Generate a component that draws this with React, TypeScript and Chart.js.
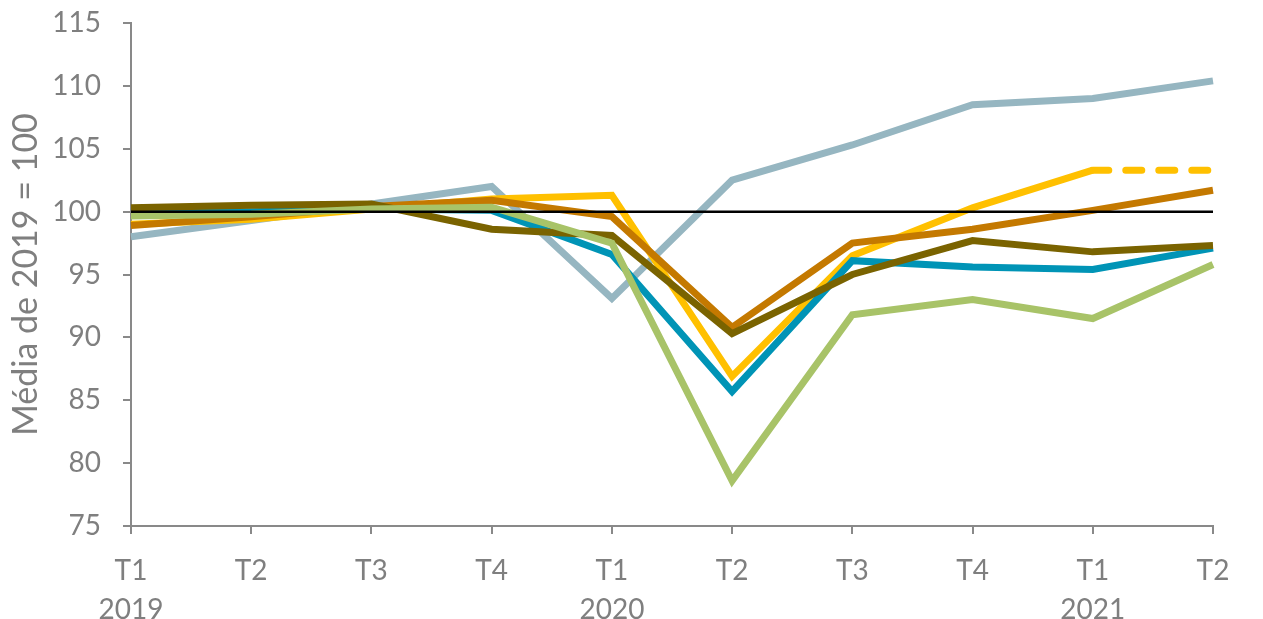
import { useEffect, useRef } from 'react';
import { Chart, registerables } from 'chart.js';

Chart.register(...registerables);

const quarters = ['T1', 'T2', 'T3', 'T4', 'T1', 'T2', 'T3', 'T4', 'T1', 'T2'];
const years = ['2019', '', '', '', '2020', '', '', '', '2021', ''];

const seriesBlueGrey = [98.0, 99.3, 100.6, 102.0, 93.1, 102.5, 105.3, 108.5, 109.0, 110.4];
const seriesYellow = [99.0, 99.4, 100.2, 101.0, 101.3, 86.9, 96.5, 100.3, 103.3, 103.3];
const seriesOrange = [98.9, 99.6, 100.4, 100.9, 99.6, 90.8, 97.5, 98.6, 100.1, 101.7];
const seriesOlive = [100.3, 100.5, 100.6, 98.6, 98.1, 90.3, 95.0, 97.7, 96.8, 97.3];
const seriesTeal = [99.9, 100.0, 100.2, 100.1, 96.6, 85.7, 96.1, 95.6, 95.4, 97.1];
const seriesGreen = [99.65, 99.8, 100.2, 100.35, 97.5, 78.6, 91.8, 93.0, 91.5, 95.8];
const reference = [100, 100, 100, 100, 100, 100, 100, 100, 100, 100];

const yMin = 75;
const yMax = 115;
const yStep = 5;
const yTitle = 'Média de 2019 = 100';

const textGrey = '#7F7F7F';
const axisGrey = '#898989';

export default function App() {
  const canvasRef = useRef<HTMLCanvasElement | null>(null);

  useEffect(() => {
    document.body.style.margin = '0';
    const canvas = canvasRef.current;
    if (!canvas) return;
    const lineDs = (data: number[], color: string, extra: any = {}) => ({
      data,
      borderColor: color,
      backgroundColor: color,
      borderWidth: 7,
      pointRadius: 0,
      pointHoverRadius: 0,
      fill: false,
      tension: 0,
      borderJoinStyle: 'miter',
      borderCapStyle: 'butt',
      ...extra,
    });
    const chart = new Chart(canvas, {
      type: 'line',
      data: {
        labels: quarters.map((q, i) => [q, years[i]]),
        datasets: [
          lineDs(reference, '#000000', { borderWidth: 2.5 }),
          lineDs(seriesGreen, '#A8C368'),
          lineDs(seriesOlive, '#7A6300'),
          lineDs(seriesTeal, '#0094B6'),
          lineDs(seriesOrange, '#C47900'),
          lineDs(seriesYellow, '#FFC000', {
            segment: {
              borderDash: (ctx: any) => (ctx.p0DataIndex === 8 ? [16, 17] : undefined),
              borderCapStyle: (ctx: any) => (ctx.p0DataIndex === 8 ? 'round' : undefined),
            },
          }),
          lineDs(seriesBlueGrey, '#96B6C1'),
        ] as any,
      },
      options: {
        animation: false,
        responsive: true,
        maintainAspectRatio: false,
        layout: { padding: { top: 23, right: 50, left: 0, bottom: 0 } },
        plugins: {
          legend: { display: false },
          tooltip: { enabled: false },
        },
        events: [],
        scales: {
          x: {
            type: 'category',
            offset: false,
            grid: {
              drawOnChartArea: false,
              drawTicks: true,
              tickLength: 8,
              color: axisGrey,
              lineWidth: 2,
            },
            border: { display: true, color: axisGrey, width: 2 },
            ticks: {
              color: textGrey,
              font: { family: 'Lato', size: 28, lineHeight: 1.4 },
              padding: 17,
              maxRotation: 0,
              autoSkip: false,
            },
            afterFit: (scale: any) => {
              scale.height = 93;
              scale.paddingLeft = 0;
              scale.paddingRight = 0;
            },
          },
          y: {
            min: yMin,
            max: yMax,
            grid: {
              drawOnChartArea: false,
              drawTicks: true,
              tickLength: 8,
              color: axisGrey,
              lineWidth: 2,
            },
            border: { display: true, color: axisGrey, width: 2 },
            ticks: {
              stepSize: yStep,
              color: textGrey,
              font: { family: 'Lato', size: 28 },
              padding: 22,
            },
            title: {
              display: true,
              text: yTitle,
              color: textGrey,
              font: { family: 'Lato', size: 34 },
              padding: { top: 6, bottom: 0 },
            },
            afterFit: (scale: any) => {
              scale.width = 131;
              scale.paddingTop = 0;
              scale.paddingBottom = 0;
            },
          },
        },
      } as any,
    });
    return () => chart.destroy();
  }, []);

  return (
    <div style={{ position: 'absolute', left: 0, top: 0, width: 1263, height: 619 }}>
      <canvas ref={canvasRef} />
    </div>
  );
}
